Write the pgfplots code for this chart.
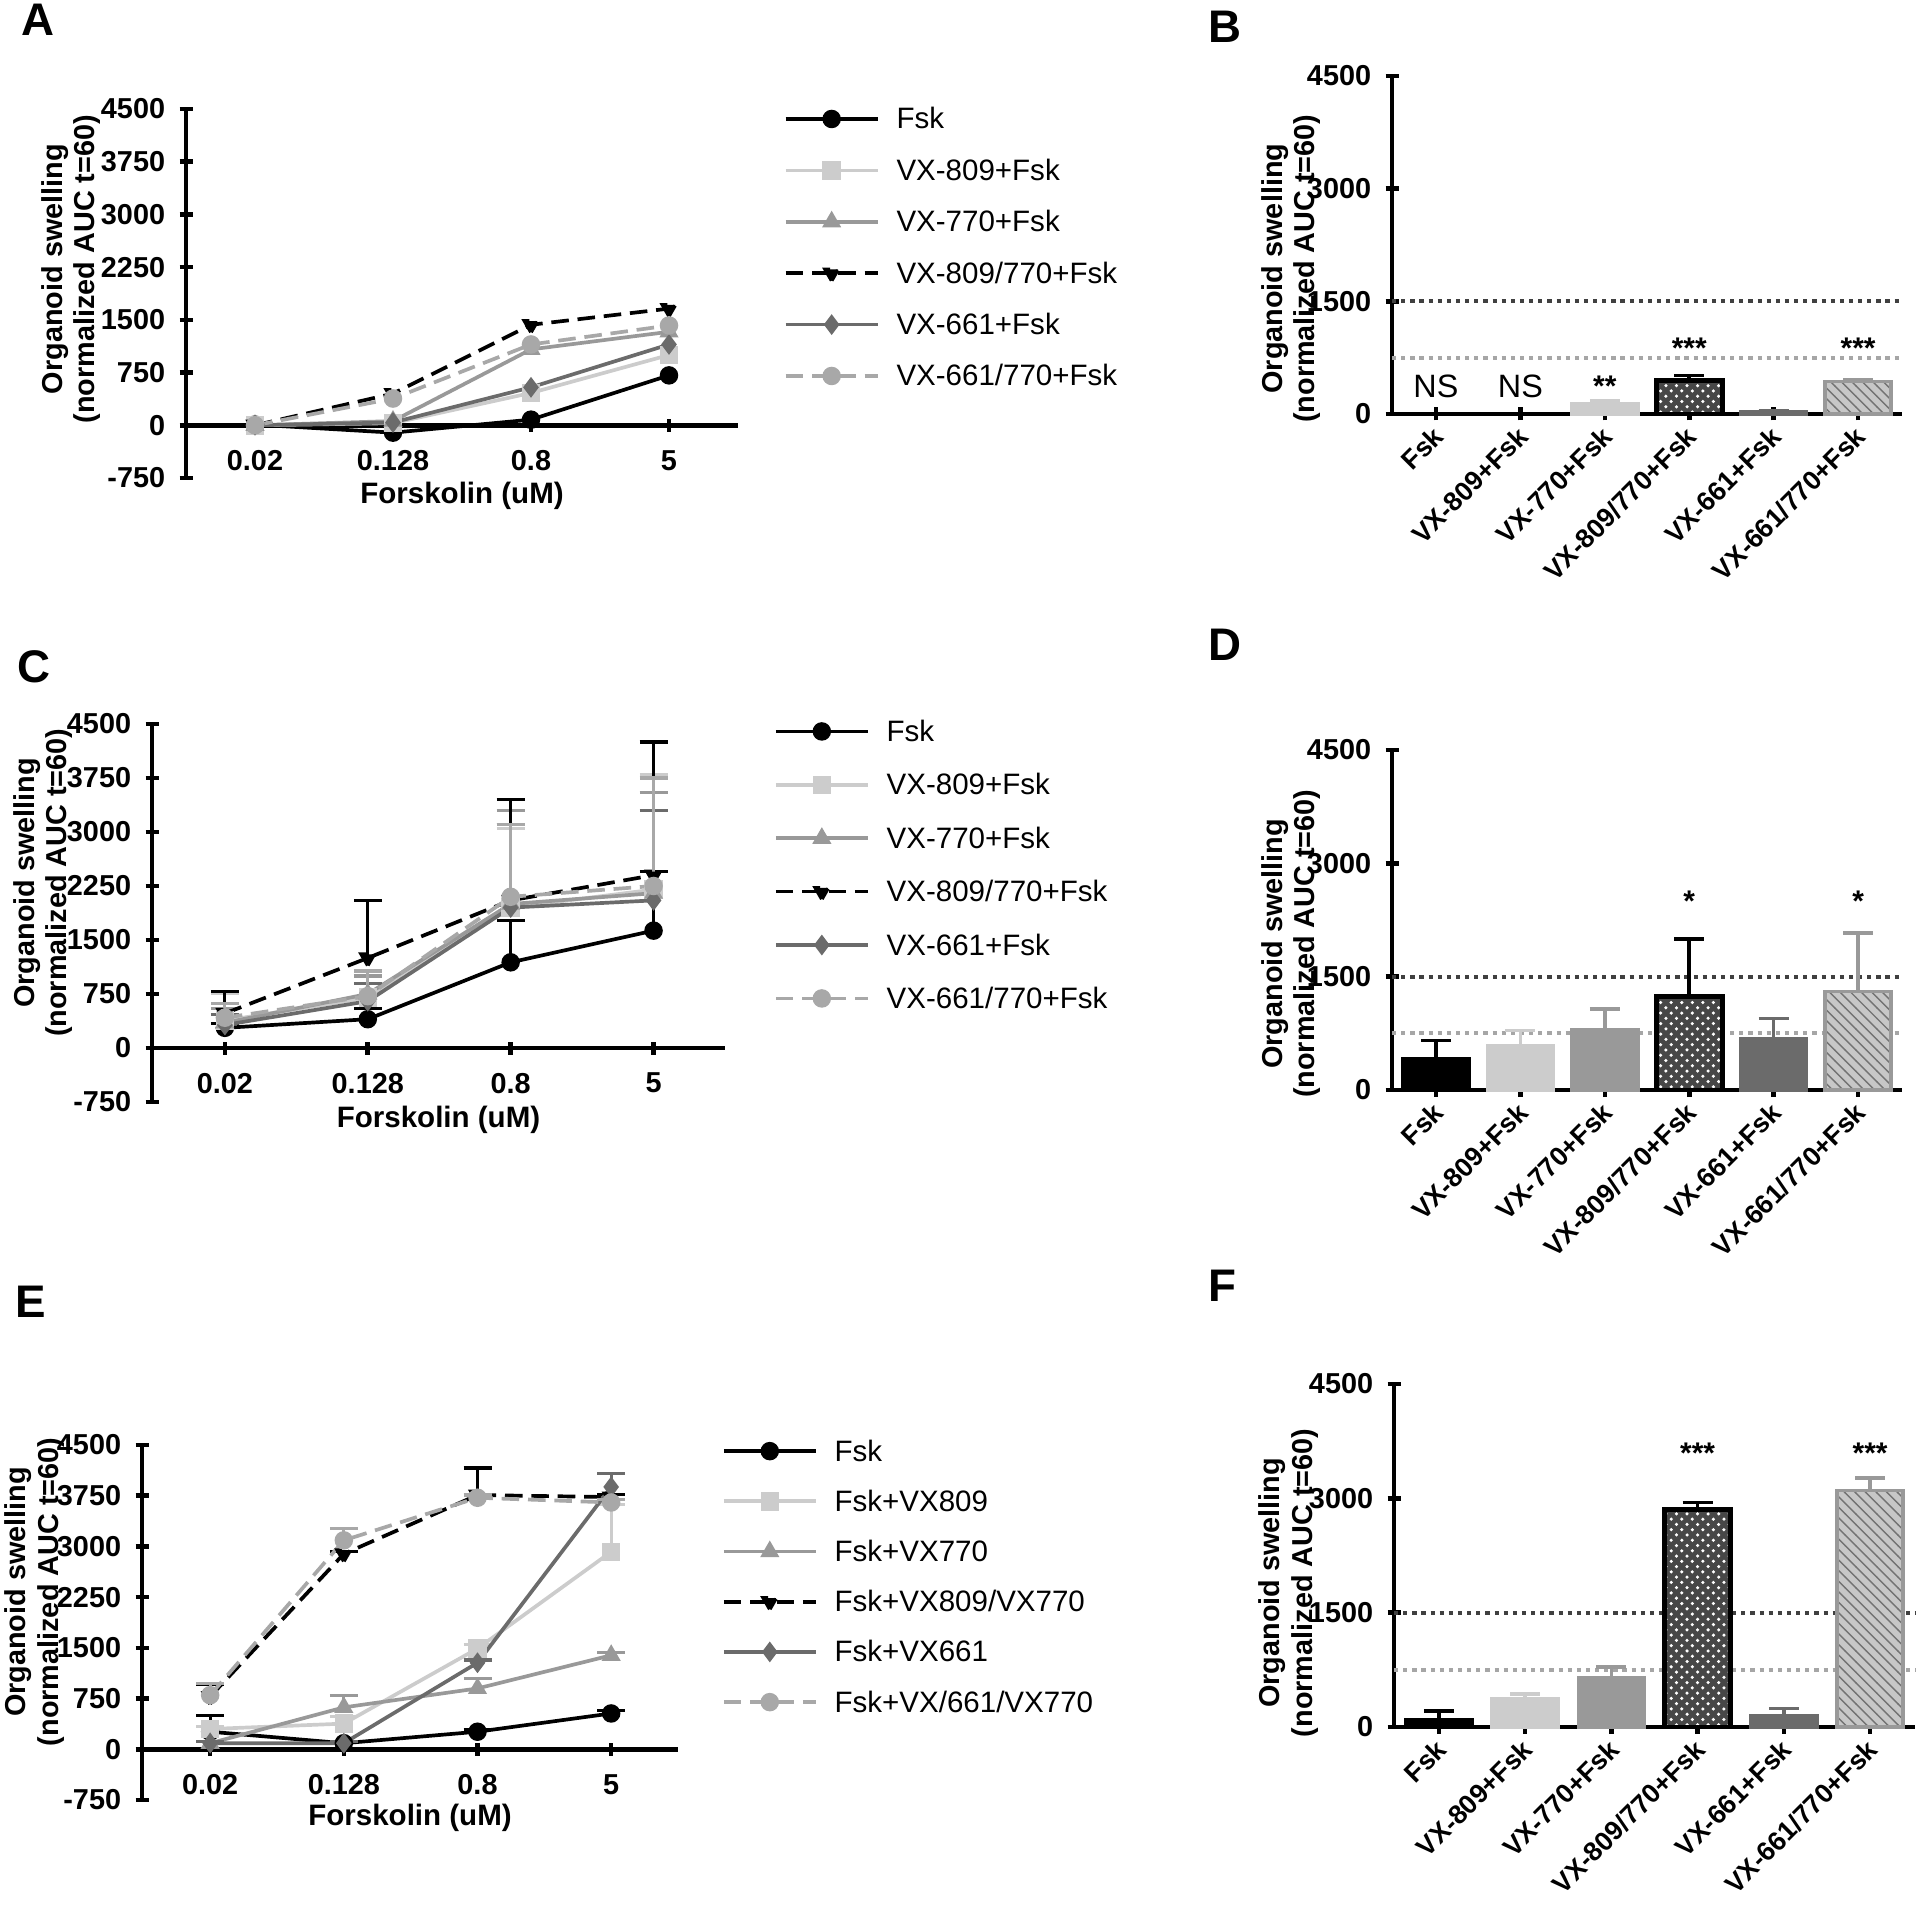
\documentclass[border=0pt]{standalone}
\usepackage{fontspec}
\setmainfont{Liberation Sans}
\usepackage{pgfplots}
\pgfplotsset{compat=1.18}
\usetikzlibrary{patterns}
\definecolor{lg}{gray}{0.80}
\definecolor{mg}{gray}{0.60}
\definecolor{dg}{gray}{0.42}
\definecolor{dl}{gray}{0.66}
\newcommand{\tickfont}{\bfseries\fontsize{8.2}{9}\selectfont}
\pgfplotsset{
  base/.style={
    scale only axis, clip=false,
    tick align=outside, major tick length=0.13cm,
    tick style={black, line width=1.3pt},
    ticklabel style={font=\tickfont},
    yticklabel style={xshift=-0.02cm},
    ylabel={Organoid swelling\\(normalized AUC t=60)},
    ylabel style={align=center, font=\bfseries\fontsize{8.2}{9.3}\selectfont, anchor=center},
  },
  ylpos/.style 2 args={ylabel style={at={(axis description cs:#1,#2)}}},
  linepanel/.style={
    base, axis x line=middle, axis y line=left,
    axis line style={-, line width=1.3pt},
    xmin=-0.5, xmax=3.5, ymin=-750, ymax=4500,
    xtick={0,1,2,3}, xticklabels={0.02,0.128,0.8,5},
    xticklabel style={yshift=-0.06cm},
    ytick={-750,0,750,1500,2250,3000,3750,4500},
    yticklabels={-750,0,750,1500,2250,3000,3750,4500},
    xlabel={Forskolin (uM)},
    xlabel style={font=\bfseries\fontsize{8.4}{10}\selectfont, at={(axis description cs:0.5,0)}, anchor=center, yshift=-0.18cm},
    legend cell align=left,
    legend image code/.code={\draw[mark repeat=2,mark phase=2,##1] plot coordinates {(0cm,0cm) (0.46cm,0cm) (0.92cm,0cm)};},
    every axis plot/.append style={line width=1.05pt, mark size=2.1pt},
  },
  leg/.style n args={3}{legend style={at={(axis description cs:#1,#2)}, anchor=north west, draw=none, fill=none, inner sep=0pt, outer sep=0pt, row sep=#3, column sep=0.17cm, nodes={inner sep=0pt, text height=0.25cm, text depth=0.05cm}, font=\fontsize{8.4}{10}\selectfont}},
  dsh/.style={dash pattern=on 5pt off 2.5pt, mark options={solid}},
  eb/.style={error bars/y dir=plus, error bars/y explicit,
    error bars/error bar style={solid, line width=0.9pt},
    error bars/error mark options={solid, rotate=90, line width=0.9pt, mark size=0.14cm}},
  ebb/.style={error bars/y dir=plus, error bars/y explicit,
    error bars/error bar style={solid, line width=1pt, draw=#1},
    error bars/error mark options={solid, rotate=90, line width=1pt, mark size=0.15cm, draw=#1}},
  barpanel/.style={
    base, axis x line=bottom, axis y line=left,
    axis line style={-, line width=1.3pt},
    xmin=-0.52, xmax=5.52, ymin=0, ymax=4500,
    xtick={0,...,5},
    xticklabels={Fsk,VX-809+Fsk,VX-770+Fsk,VX-809/770+Fsk,VX-661+Fsk,VX-661/770+Fsk},
    xticklabel style={rotate=45, anchor=east, xshift=0.06cm, yshift=-0.1cm, font=\bfseries\fontsize{7.6}{9}\selectfont},
    ytick={0,1500,3000,4500}, yticklabels={0,1500,3000,4500},
  },
  mybar/.style={ybar, bar width=0.66cm, bar shift=0pt, line width=1pt},
  refA/.style={black!75, line width=1.2pt, dash pattern=on 1.2pt off 1.4pt},
  refB/.style={black!35, line width=1.2pt, dash pattern=on 1.2pt off 1.4pt},
  chk/.style={fill=black!72, draw=black, line width=1.3pt, postaction={pattern=crosshatch dots, pattern color=white}},
  htc/.style={fill=black!22, draw=black!40, postaction={pattern=north west lines, pattern color=black!55}},
}
\begin{document}
\begin{tikzpicture}
\path[use as bounding box] (0,0) rectangle (19.2,19.04);
% panel letters
\node[font=\bfseries\fontsize{13}{15}\selectfont] at (0.38,18.84) {A};
\node[font=\bfseries\fontsize{13}{15}\selectfont] at (12.25,18.77) {B};
\node[font=\bfseries\fontsize{13}{15}\selectfont] at (0.34,12.37) {C};
\node[font=\bfseries\fontsize{13}{15}\selectfont] at (12.25,12.59) {D};
\node[font=\bfseries\fontsize{13}{15}\selectfont] at (0.31,6.02) {E};
\node[font=\bfseries\fontsize{13}{15}\selectfont] at (12.22,6.18) {F};

% ---------------- Panel A
\begin{axis}[linepanel, at={(1.86cm,14.26cm)}, anchor=south west, width=5.52cm, height=3.69cm,
  ylpos={-0.208}{0.566},
  leg={1.083}{1.0136}{0.214cm},
  legend entries={Fsk,VX-809+Fsk,VX-770+Fsk,VX-809/770+Fsk,VX-661+Fsk,VX-661/770+Fsk}]
\addplot[black, mark=*] coordinates {(0,10) (1,-105) (2,80) (3,710)};
\addplot[lg, mark=square*] coordinates {(0,0) (1,30) (2,460) (3,1000)};
\addplot[mg, mark=triangle*] coordinates {(0,0) (1,60) (2,1080) (3,1330)};
\addplot[black, dsh, mark=triangle*, mark options={rotate=180}] coordinates {(0,0) (1,450) (2,1430) (3,1660)};
\addplot[dg, mark=diamond*] coordinates {(0,0) (1,40) (2,540) (3,1150)};
\addplot[dl, dsh, mark=*] coordinates {(0,0) (1,380) (2,1150) (3,1420)};
\end{axis}

% ---------------- Panel B
\begin{axis}[barpanel, at={(13.92cm,14.90cm)}, anchor=south west, width=5.10cm, height=3.38cm,
  ylpos={-0.198}{0.43}]
\addplot[refA] coordinates {(-0.52,1500) (5.52,1500)};
\addplot[refB] coordinates {(-0.52,750) (5.52,750)};
\addplot[mybar, fill=lg, draw=lg, ebb=lg] coordinates {(2,135) +- (0,40)};
\addplot[mybar, chk, ebb=black] coordinates {(3,445) +- (0,65)};
\addplot[mybar, fill=dg, draw=dg, ebb=dg] coordinates {(4,30) +- (0,8)};
\addplot[mybar, htc, ebb=black!40] coordinates {(5,435) +- (0,25)};
\node[font=\fontsize{9.2}{10}\selectfont, anchor=base, yshift=-0.11cm] at (axis cs:0,370) {NS};
\node[font=\fontsize{9.2}{10}\selectfont, anchor=base, yshift=-0.11cm] at (axis cs:1,370) {NS};
\node[font=\bfseries\fontsize{8.5}{10}\selectfont, anchor=base, yshift=-0.17cm] at (axis cs:2,460) {**};
\node[font=\bfseries\fontsize{8.5}{10}\selectfont, anchor=base, yshift=-0.17cm] at (axis cs:3,960) {***};
\node[font=\bfseries\fontsize{8.5}{10}\selectfont, anchor=base, yshift=-0.17cm] at (axis cs:5,960) {***};
\end{axis}

% ---------------- Panel C
\begin{axis}[linepanel, at={(1.52cm,8.02cm)}, anchor=south west, width=5.73cm, height=3.78cm, xmin=-0.51,
  ylpos={-0.19}{0.58},
  leg={1.0855}{1.02}{0.234cm},
  legend entries={Fsk,VX-809+Fsk,VX-770+Fsk,VX-809/770+Fsk,VX-661+Fsk,VX-661/770+Fsk}]
\addplot[black, mark=*, eb] coordinates {(0,280) +- (0,60) (1,400) +- (0,150) (2,1190) +- (0,580) (3,1630) +- (0,820)};
\addplot[lg, mark=square*, eb] coordinates {(0,380) +- (0,380) (1,700) +- (0,300) (2,1950) +- (0,1100) (3,2200) +- (0,1600)};
\addplot[mg, mark=triangle*, eb] coordinates {(0,350) +- (0,200) (1,750) +- (0,250) (2,2000) +- (0,1300) (3,2150) +- (0,1400)};
\addplot[black, dsh, mark=triangle*, mark options={rotate=180}, eb] coordinates {(0,480) +- (0,300) (1,1250) +- (0,800) (2,2050) +- (0,1400) (3,2400) +- (0,1850)};
\addplot[dg, mark=diamond*, eb] coordinates {(0,320) +- (0,150) (1,650) +- (0,250) (2,1950) +- (0,1150) (3,2050) +- (0,1250)};
\addplot[dl, dsh, mark=*, eb] coordinates {(0,420) +- (0,200) (1,720) +- (0,350) (2,2100) +- (0,1000) (3,2250) +- (0,1500)};
\end{axis}

% ---------------- Panel D
\begin{axis}[barpanel, at={(13.92cm,8.14cm)}, anchor=south west, width=5.10cm, height=3.40cm,
  ylpos={-0.198}{0.43}]
\addplot[refA] coordinates {(-0.52,1500) (5.52,1500)};
\addplot[refB] coordinates {(-0.52,750) (5.52,750)};
\addplot[mybar, fill=black, draw=black, ebb=black] coordinates {(0,412) +- (0,246)};
\addplot[mybar, fill=lg, draw=lg, ebb=lg] coordinates {(1,580) +- (0,207)};
\addplot[mybar, fill=mg, draw=mg, ebb=mg] coordinates {(2,796) +- (0,274)};
\addplot[mybar, chk, ebb=black] coordinates {(3,1240) +- (0,760)};
\addplot[mybar, fill=dg, draw=dg, ebb=dg] coordinates {(4,681) +- (0,266)};
\addplot[mybar, htc, ebb=black!40] coordinates {(5,1303) +- (0,777)};
\node[font=\bfseries\fontsize{8.5}{10}\selectfont, anchor=base, yshift=-0.17cm] at (axis cs:3,2590) {*};
\node[font=\bfseries\fontsize{8.5}{10}\selectfont, anchor=base, yshift=-0.17cm] at (axis cs:5,2590) {*};
\end{axis}

% ---------------- Panel E
\begin{axis}[linepanel, at={(1.42cm,1.04cm)}, anchor=south west, width=5.36cm, height=3.55cm, xmin=-0.51,
  ylpos={-0.201}{0.586},
  leg={1.082}{1.025}{0.202cm},
  legend entries={Fsk,Fsk+VX809,Fsk+VX770,Fsk+VX809/VX770,Fsk+VX661,Fsk+VX/661/VX770}]
\addplot[black, mark=*, eb] coordinates {(0,260) +- (0,240) (1,90) +- (0,30) (2,260) +- (0,30) (3,530) +- (0,40)};
\addplot[lg, mark=square*, eb] coordinates {(0,300) +- (0,40) (1,380) +- (0,100) (2,1490) +- (0,60) (3,2920) +- (0,700)};
\addplot[mg, mark=triangle*, eb] coordinates {(0,90) +- (0,30) (1,620) +- (0,170) (2,900) +- (0,150) (3,1390) +- (0,40)};
\addplot[black, dsh, mark=triangle*, mark options={rotate=180}, eb] coordinates {(0,780) +- (0,180) (1,2890) +- (0,40) (2,3760) +- (0,400) (3,3730) +- (0,40)};
\addplot[dg, mark=diamond*, eb] coordinates {(0,90) +- (0,30) (1,90) +- (0,30) (2,1280) +- (0,40) (3,3880) +- (0,200)};
\addplot[dl, dsh, mark=*, eb] coordinates {(0,800) +- (0,170) (1,3090) +- (0,170) (2,3720) +- (0,40) (3,3650) +- (0,40)};
\end{axis}

% ---------------- Panel F
\begin{axis}[barpanel, at={(13.94cm,1.77cm)}, anchor=south west, width=5.21cm, height=3.43cm,
  ylpos={-0.203}{0.42}]
\addplot[refA] coordinates {(-0.52,1500) (5.52,1500)};
\addplot[refB] coordinates {(-0.52,750) (5.52,750)};
\addplot[mybar, fill=black, draw=black, ebb=black] coordinates {(0,94) +- (0,116)};
\addplot[mybar, fill=lg, draw=lg, ebb=lg] coordinates {(1,375) +- (0,61)};
\addplot[mybar, fill=mg, draw=mg, ebb=mg] coordinates {(2,642) +- (0,146)};
\addplot[mybar, chk, ebb=black] coordinates {(3,2850) +- (0,94)};
\addplot[mybar, fill=dg, draw=dg, ebb=dg] coordinates {(4,150) +- (0,94)};
\addplot[mybar, htc, ebb=black!40] coordinates {(5,3103) +- (0,164)};
\node[font=\bfseries\fontsize{8.5}{10}\selectfont, anchor=base, yshift=-0.17cm] at (axis cs:3,3680) {***};
\node[font=\bfseries\fontsize{8.5}{10}\selectfont, anchor=base, yshift=-0.17cm] at (axis cs:5,3680) {***};
\end{axis}
\end{tikzpicture}
\end{document}
